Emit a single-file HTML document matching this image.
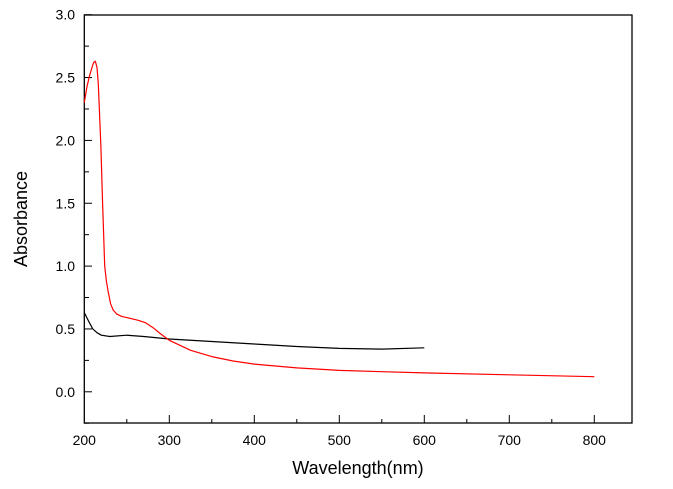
<!DOCTYPE html>
<html><head><meta charset="utf-8"><style>
body{margin:0;background:#fff;}
svg{display:block;font-family:"Liberation Sans",Arial,sans-serif;}
</style></head><body>
<svg id="chart" width="673" height="489">
<rect x="84.3" y="15" width="547.7" height="408" fill="none" stroke="#000" stroke-width="1.3"/>
<g id="axes"></g>
<g id="series"></g>
<text x="358" y="474" font-size="18" text-anchor="middle">Wavelength(nm)</text>
<text transform="translate(27,219) rotate(-90)" font-size="18" text-anchor="middle">Absorbance</text>
</svg>
<script>
const xTicks=[200,300,400,500,600,700,800];
const yTicks=[0.0,0.5,1.0,1.5,2.0,2.5,3.0];
const redX=[200,203,206,209,211,213,215,216.5,218,219.5,221.5,224,226,228,231,234,238,244,250,263,272,281,290,300,325,350,375,400,450,500,550,600,700,800];
const redY=[2.3,2.42,2.51,2.58,2.62,2.63,2.58,2.45,2.2,1.95,1.5,1.0,0.88,0.8,0.7,0.65,0.62,0.6,0.59,0.57,0.55,0.51,0.46,0.41,0.33,0.28,0.245,0.22,0.19,0.17,0.16,0.15,0.135,0.12];
const blackX=[200,203,206,210,215,220,230,250,270,300,350,400,450,500,550,600];
const blackY=[0.63,0.59,0.55,0.5,0.47,0.45,0.44,0.45,0.44,0.42,0.4,0.38,0.36,0.345,0.34,0.35];
const X=v=>84.3+(v-200)*0.85;
const Y=v=>391.8-v*125.7;
const NS="http://www.w3.org/2000/svg";
const axes=document.getElementById('axes'),series=document.getElementById('series');
function mk(tag,attrs,parent){const e=document.createElementNS(NS,tag);for(const k in attrs)e.setAttribute(k,attrs[k]);parent.appendChild(e);return e;}
for(let v=250;v<=800;v+=50){
  const t=mk('line',{x1:X(v),x2:X(v),y1:423,y2:(v%100===0)?415:419,stroke:'#000','stroke-width':1},axes);
  
  
}
xTicks.forEach(v=>{
  const t=mk('text',{x:X(v),y:445,'font-size':14,'text-anchor':'middle'},axes);
  t.textContent=v;
  
  
});
for(let i=-1;i<=12;i++){
  const v=i*0.25;
  const t=mk('line',{x1:84.3,x2:(i%2===0)?92:89,y1:Y(v),y2:Y(v),stroke:'#000','stroke-width':1},axes);
  
  
}
yTicks.forEach(v=>{
  const t=mk('text',{x:75,y:Y(v)+5,'font-size':14,'text-anchor':'end'},axes);
  t.textContent=v.toFixed(1);
  
  
});
function line(xs,ys,color,name){
  const d=xs.map((x,i)=>(i?'L':'M')+X(x).toFixed(1)+','+Y(ys[i]).toFixed(1)).join('');
  const p=mk('path',{d:d,fill:'none',stroke:color,'stroke-width':1.2,'stroke-linejoin':'round'},series);
  
  
}
line(blackX,blackY,'#000','black-series-line');
line(redX,redY,'#f00','red-series-line');
</script>
</body></html>
